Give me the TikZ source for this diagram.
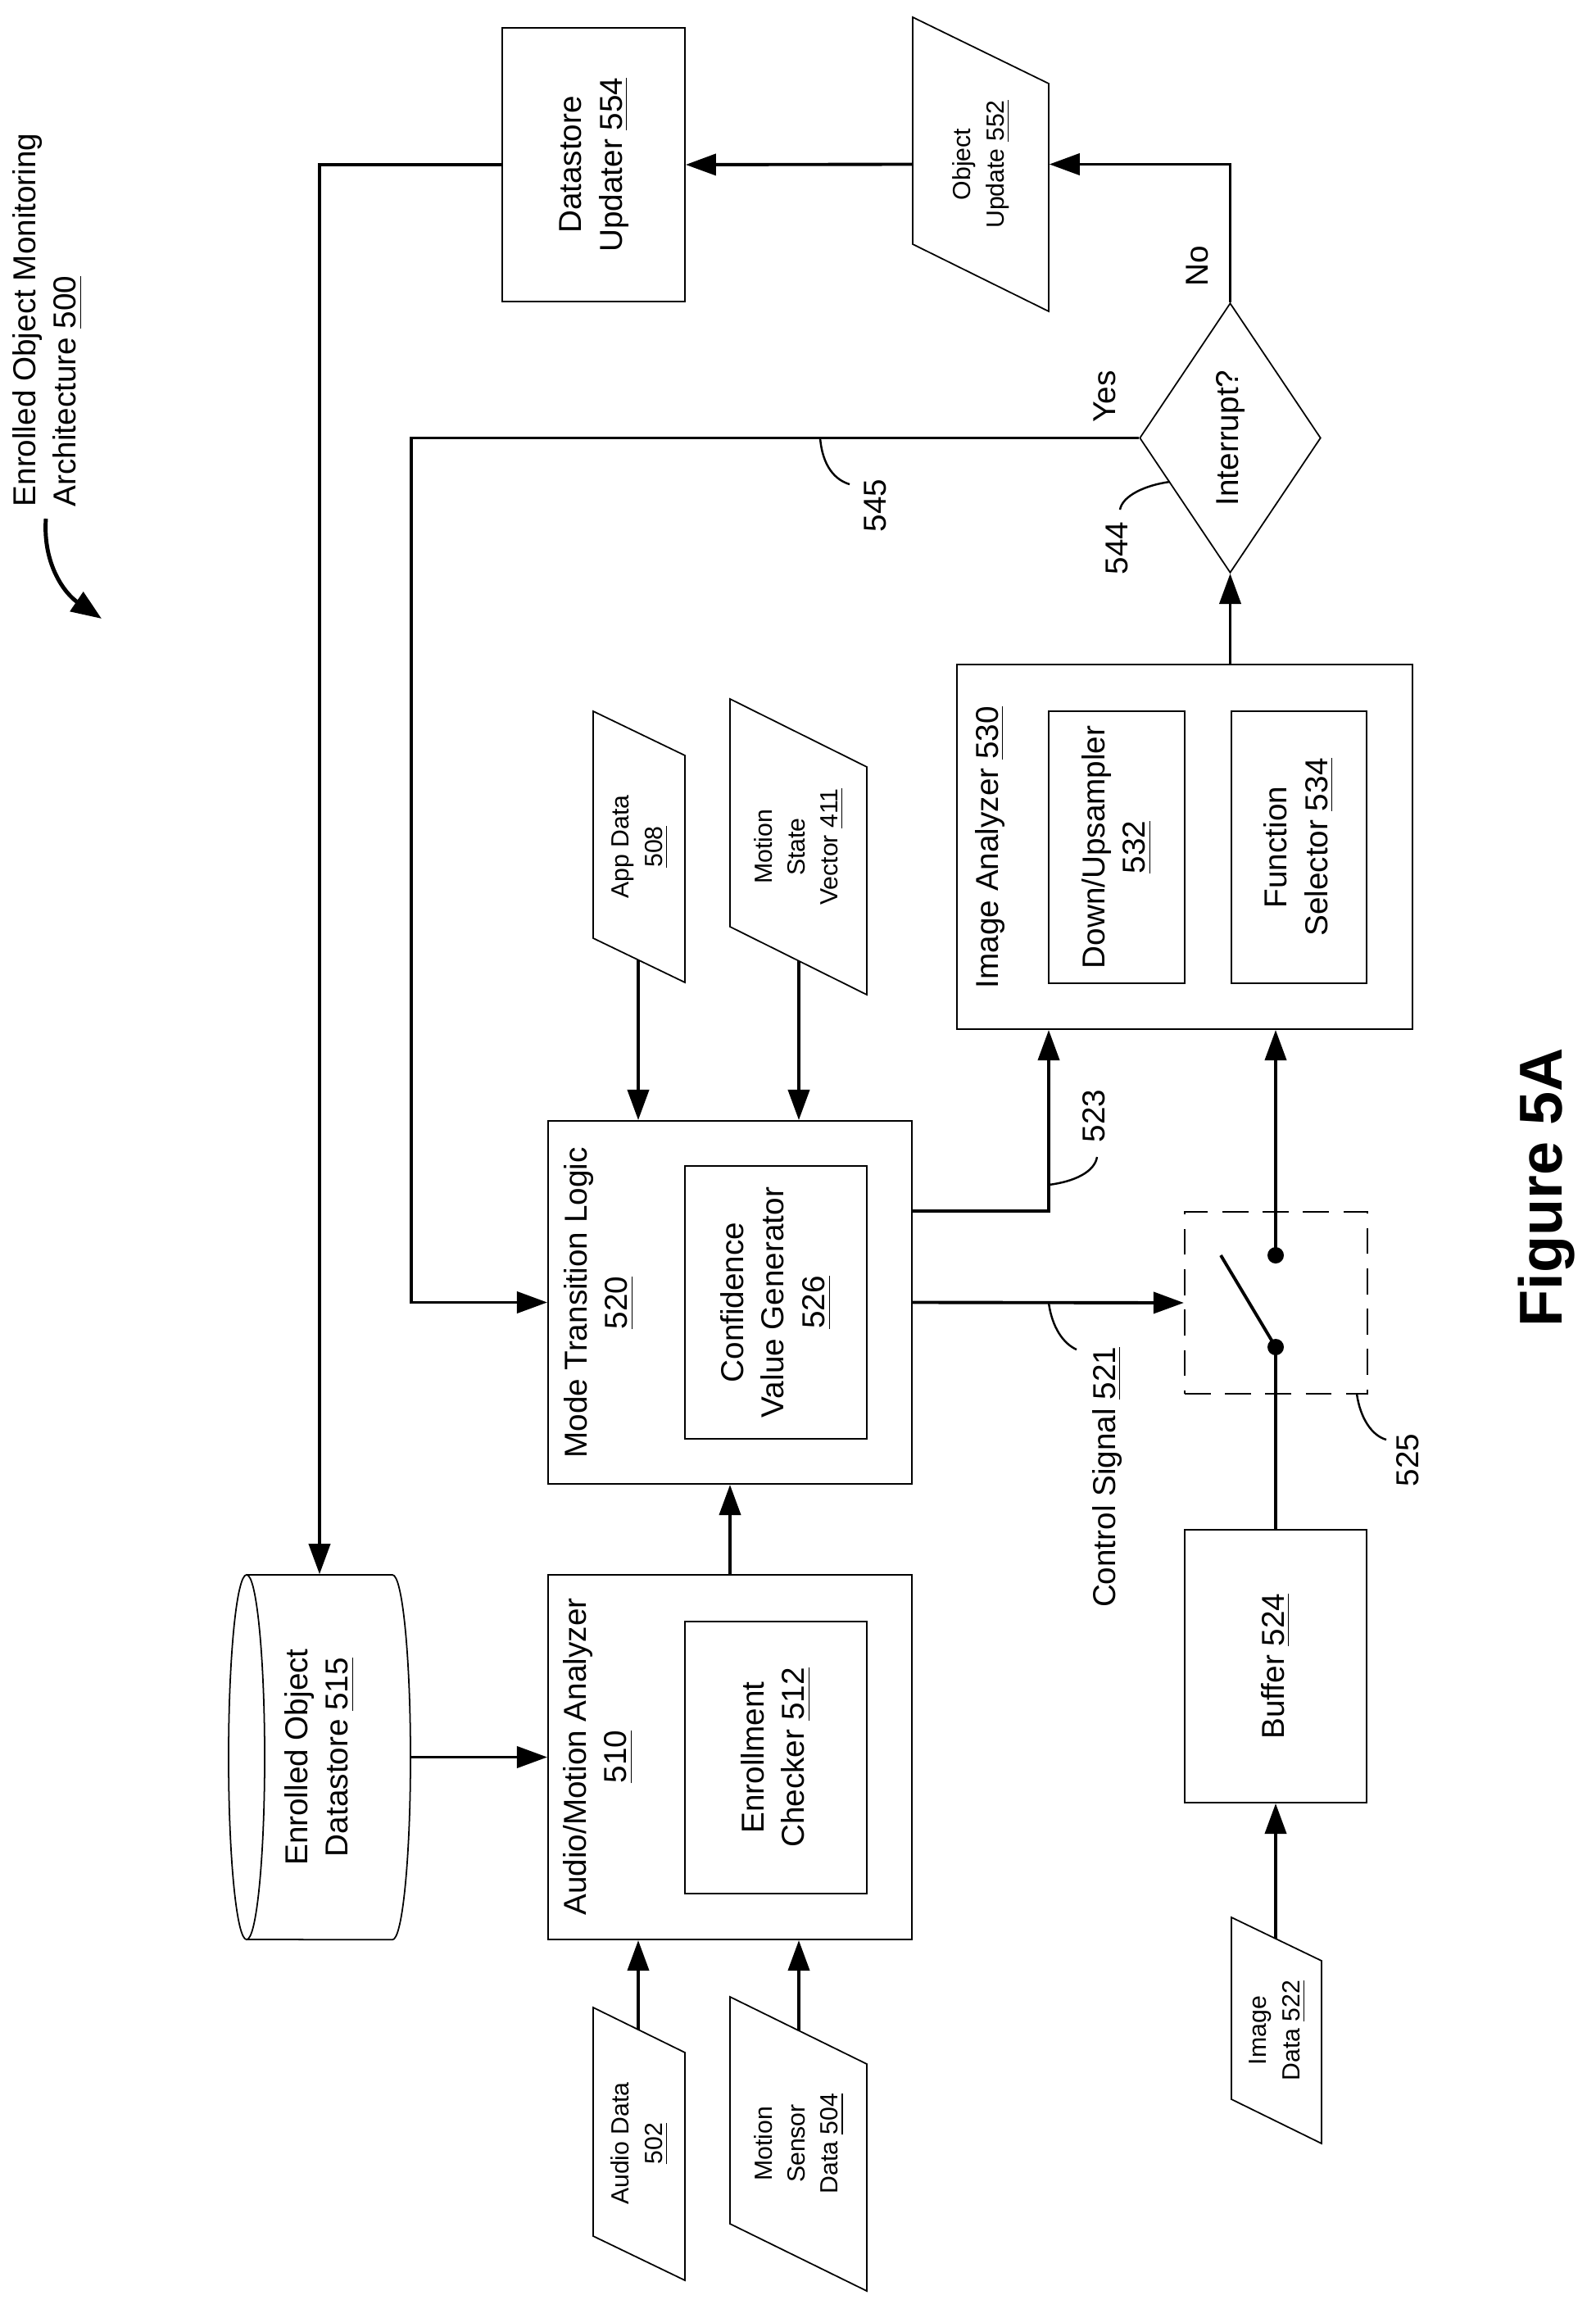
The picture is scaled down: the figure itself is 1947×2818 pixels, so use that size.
\documentclass[tikz,border=0pt]{standalone}
\usepackage{fontspec}
\setmainfont{Liberation Sans}
\usepackage{graphicx}
\usetikzlibrary{arrows.meta,shapes.geometric}
\newcommand\rtxt[1]{\rotatebox{90}{\begin{tabular}{@{}c@{}}#1\end{tabular}}}
\newcommand\rtxtl[1]{\rotatebox{90}{\begin{tabular}{@{}l@{}}#1\end{tabular}}}
\begin{document}
\begin{tikzpicture}[x=0.01cm,y=-0.01cm,
  box/.style={draw,line width=0.5pt,rectangle,inner sep=0pt},
  ghost/.style={draw=none,rectangle,inner sep=0pt},
  big/.style={font=\fontsize{11}{14.2}\selectfont},
  small/.style={font=\fontsize{8.6}{11.4}\selectfont},
  conn/.style={line width=1.1pt},
  arr/.style={conn,-{Triangle[length=3.7mm,width=2.6mm]}},
  lead/.style={line width=0.7pt},
  shp/.style={line width=0.5pt}]
\useasboundingbox (0,0) rectangle (1947,2818);

% title
\node[big,anchor=south,inner sep=0pt] (title) at (58,619) {\rtxtl{Enrolled Object Monitoring\\Architecture \underline{500}}};
\coordinate (tstart) at (56,633);
\coordinate (tend) at (124,755);
\draw[line width=1.4pt,-{Triangle[length=3.7mm,width=2.8mm]}] (tstart) .. controls (52,690) and (80,725) .. (tend);

% Datastore updater
\node[box,big,minimum width=2.23cm,minimum height=3.34cm] (DU) at (724.5,201) {\rtxt{Datastore\\Updater \underline{554}}};

% Object update parallelogram
\node[ghost,small,minimum width=1.66cm,minimum height=3.59cm] (OU) at (1197,200.5) {\rtxt{Object\\Update \underline{552}}};
\draw[shp] (1114,21) -- (1280,102) -- (1280,380) -- (1114,298) -- cycle;

% Diamond
\node[diamond,draw,line width=0.5pt,inner sep=0pt,minimum width=2.21cm,minimum height=3.29cm] (D) at (1501.5,534.5) {};
\node[big,inner sep=0pt] (Dt) at (1501.5,534.5) {\rtxt{Interrupt?}};
\node[big,inner sep=0pt] (no) at (1464,325) {\rtxt{No}};
\node[big,inner sep=0pt] (yes) at (1351,484) {\rtxt{Yes}};
\node[big,inner sep=0pt] (l545) at (1071,617) {\rtxt{545}};
\node[big,inner sep=0pt] (l544) at (1366,669) {\rtxt{544}};

% Image analyzer
\node[box,minimum width=5.56cm,minimum height=4.45cm] (IA) at (1446,1033.5) {};
\node[big,inner sep=0pt] (IAt) at (1208,1034) {\rtxt{Image Analyzer \underline{530}}};
\node[box,big,minimum width=1.66cm,minimum height=3.32cm] (DUS) at (1363,1034) {\rtxt{Down/Upsampler\\\underline{532}}};
\node[box,big,minimum width=1.65cm,minimum height=3.32cm] (FS) at (1585.5,1034) {\rtxt{Function\\Selector \underline{534}}};

% App data / motion state
\node[ghost,small,minimum width=1.12cm,minimum height=3.31cm] (AD) at (780,1033.5) {\rtxt{App Data\\\underline{508}}};
\draw[shp] (724,868) -- (836,922) -- (836,1199) -- (724,1145) -- cycle;
\node[ghost,small,minimum width=1.67cm,minimum height=3.61cm] (MSV) at (974.5,1033.5) {\rtxt{Motion\\State\\Vector \underline{411}}};
\draw[shp] (891,853) -- (1058,936) -- (1058,1214) -- (891,1131) -- cycle;

% Mode transition logic
\node[box,minimum width=4.44cm,minimum height=4.43cm] (MTL) at (891,1589.5) {};
\node[big,inner sep=0pt] (MTLt) at (731,1590) {\rtxt{Mode Transition Logic\\\underline{520}}};
\node[box,big,minimum width=2.22cm,minimum height=3.33cm] (CVG) at (947,1589.5) {\rtxt{Confidence\\Value Generator\\\underline{526}}};

% Audio/motion analyzer
\node[box,minimum width=4.44cm,minimum height=4.45cm] (AMA) at (891,2144.5) {};
\node[big,inner sep=0pt] (AMAt) at (730,2144) {\rtxt{Audio/Motion Analyzer\\\underline{510}}};
\node[box,big,minimum width=2.22cm,minimum height=3.32cm] (EC) at (947,2145) {\rtxt{Enrollment\\Checker \underline{512}}};

% Datastore cylinder
\node[ghost,big,minimum width=2.22cm,minimum height=4.45cm] (ds) at (390,2144.5) {\rtxt{Enrolled Object\\Datastore \underline{515}}};
\draw[shp] (301,1922) -- (479,1922) arc[start angle=90,end angle=-90,x radius=0.22cm,y radius=2.225cm] -- (301,2367);
\draw[shp] (301,2144.5) ellipse[x radius=0.22cm,y radius=2.225cm];

% Audio / motion sensor data
\node[ghost,small,minimum width=1.12cm,minimum height=3.33cm] (AUD) at (780,2616) {\rtxt{Audio Data\\\underline{502}}};
\draw[shp] (724,2450) -- (836,2505) -- (836,2783) -- (724,2729) -- cycle;
\node[ghost,small,minimum width=1.67cm,minimum height=3.59cm] (MSD) at (974.5,2616) {\rtxt{Motion\\Sensor\\Data \underline{504}}};
\draw[shp] (891,2437) -- (1058,2519) -- (1058,2796) -- (891,2714) -- cycle;

% Switch
\node[draw,dashed,dash pattern=on 9pt off 5pt,line width=0.6pt,rectangle,inner sep=0pt,minimum width=2.23cm,minimum height=2.22cm] (SW) at (1557.5,1590) {};
\node[circle,fill,inner sep=0pt,minimum size=0.2cm] (dotU) at (1557,1532) {};
\node[circle,fill,inner sep=0pt,minimum size=0.2cm] (dotL) at (1557,1644) {};
\coordinate (blade) at (1490,1532);
\draw[conn] (blade) -- (dotL.center);

% Buffer, image data
\node[box,big,minimum width=2.22cm,minimum height=3.33cm] (BUF) at (1557,2033.5) {\rtxt{Buffer \underline{524}}};
\node[ghost,small,minimum width=1.10cm,minimum height=2.76cm] (ID) at (1558,2478) {\rtxt{Image\\Data \underline{522}}};
\draw[shp] (1503,2340) -- (1613,2393) -- (1613,2616) -- (1503,2562) -- cycle;

% labels
\node[big,inner sep=0pt] (l523) at (1338,1362) {\rtxt{523}};
\node[big,inner sep=0pt] (l525) at (1721,1782) {\rtxt{525}};
\node[big,inner sep=0pt,anchor=north] (l521) at (1351,1643) {\rtxt{Control Signal \underline{521}}};
\node[font=\bfseries\fontsize{21}{25}\selectfont,inner sep=0pt] (fig) at (1889,1449) {\rtxt{Figure 5A}};

% connectors
\draw[arr] (OU.west) -- (DU.east);
\draw[arr] (D.north) |- (OU.east);
\draw[arr] (DU.west) -| (ds.north);
\coordinate (ycorner) at (502,534.5);
\draw[arr] (D.west) -- (ycorner) |- (MTL.west);
\draw[arr] (IA.north -| D.south) -- (D.south);
\coordinate (adb) at (779,1172);
\draw[arr] (adb) -- (adb |- MTL.north);
\coordinate (msvb) at (975,1173);
\draw[arr] (msvb) -- (msvb |- MTL.north);
\draw[arr] (AMA.north) -- (MTL.south);
\draw[arr] (ds.east) -- (AMA.west);
\coordinate (adt) at (779,2477);
\draw[arr] (adt) -- (adt |- AMA.south);
\coordinate (msdt) at (975,2478);
\draw[arr] (msdt) -- (msdt |- AMA.south);
\coordinate (c523) at (1280,1478);
\draw[arr] (c523 -| MTL.east) -- (c523) -- (c523 |- IA.south);
\draw[arr] (MTL.east) -- (SW.west);
\draw[arr] (dotU.center) -- (dotU |- IA.south);
\draw[conn] (BUF.north) -- (dotL.center);
\coordinate (idt) at (1557,2366);
\draw[arr] (idt) -- (BUF.south);

% leaders
\coordinate (a545) at (1001,534.5); \coordinate (b545) at (1037,591);
\draw[lead] (a545) .. controls (1004,570) and (1020,586) .. (b545);
\coordinate (a544) at (1428,588); \coordinate (b544) at (1367,622);
\draw[lead] (a544) .. controls (1398,592) and (1370,605) .. (b544);
\coordinate (a523) at (1280,1446); \coordinate (b523) at (1339,1412);
\draw[lead] (a523) .. controls (1312,1442) and (1336,1430) .. (b523);
\coordinate (a521) at (1280,1590); \coordinate (b521) at (1314,1647);
\draw[lead] (a521) .. controls (1284,1620) and (1298,1640) .. (b521);
\coordinate (a525) at (1656,1701); \coordinate (b525) at (1692,1757);
\draw[lead] (a525) .. controls (1660,1730) and (1674,1752) .. (b525);
\end{tikzpicture}
\end{document}
